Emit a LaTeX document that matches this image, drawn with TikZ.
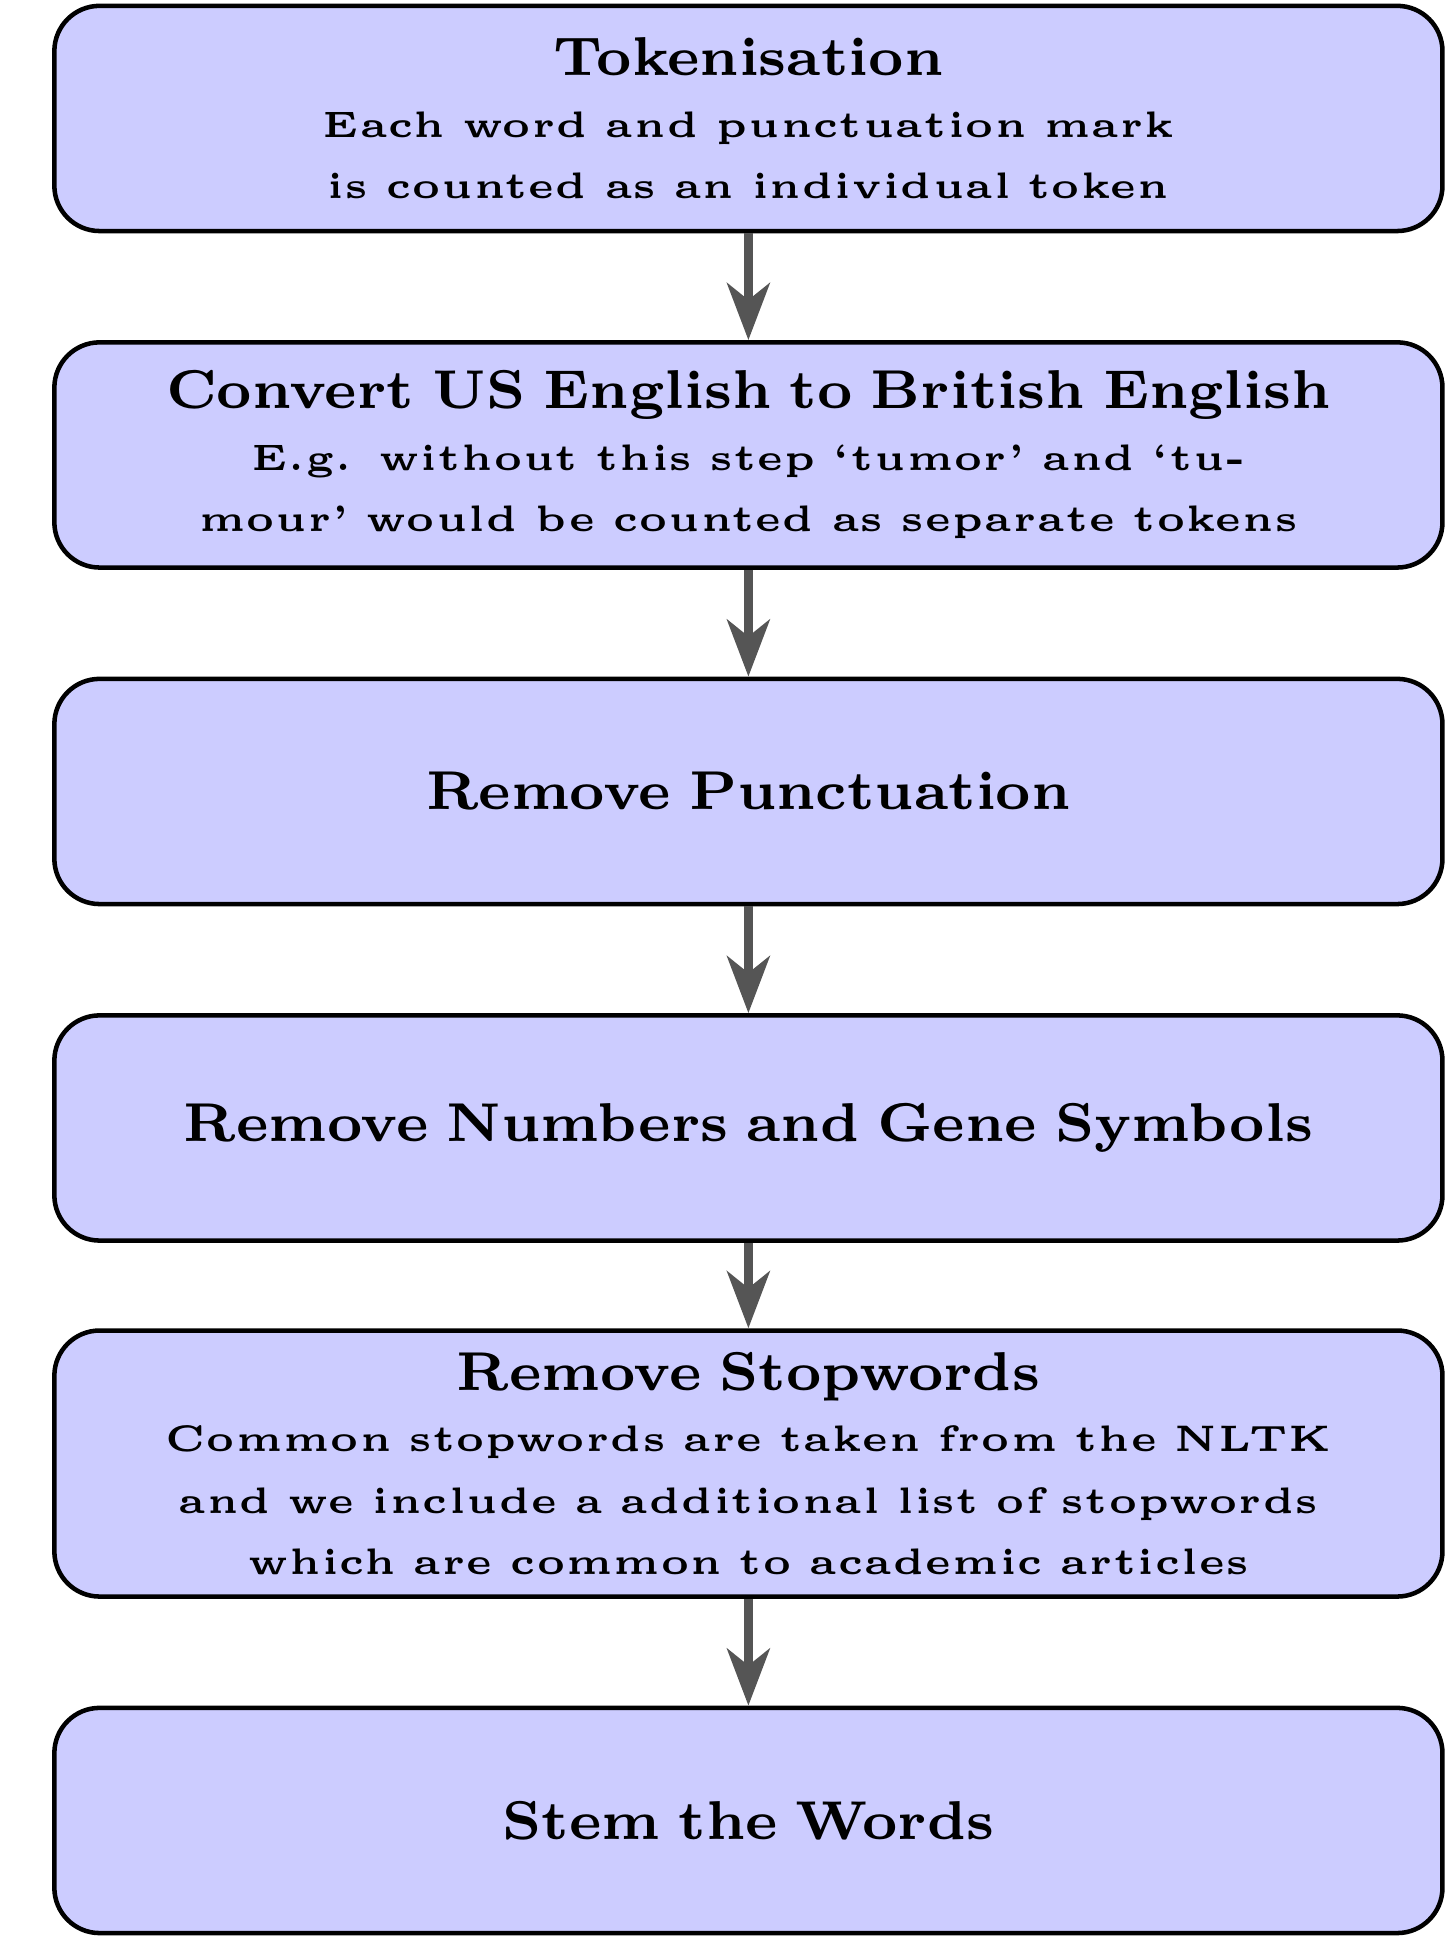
\documentclass[tikz,border=0pt]{standalone}
\usepackage{fontspec}
\newfontfamily\titlefont{lmroman7-bold.otf}[Ligatures=TeX]
\newfontfamily\detailfont{lmroman5-bold.otf}[Ligatures=TeX,WordSpace=1.6,LetterSpace=4]
\usepackage{xcolor}
\definecolor{Lilac}{HTML}{CCCCFF}
\definecolor{Graphite}{HTML}{555555}
\usepackage{tikz}
\usetikzlibrary{arrows.meta,positioning}
\newcommand{\detail}[1]{{\fontsize{5.7pt}{6.5pt}\detailfont #1}}

\begin{document}
\begin{tikzpicture}[
  node distance=16.5pt,
  stage/.style={draw=black,line width=0.7pt,rounded corners=7pt,fill=Lilac,text width=6.5cm,minimum width=214.5pt,minimum height=34.8pt,align=center,font=\fontsize{8.45pt}{9.5pt}\titlefont},
  arrow/.style={-{Stealth[length=8.8pt,width=6.6pt,inset=2.6pt]},line width=1.35pt,color=Graphite}
]
\useasboundingbox (-115.65pt,18.3pt) rectangle (107.8pt,-282.1pt);
\node[stage] (tokenise) {Tokenisation\\\detail{Each word and punctuation mark is counted as an individual token}};
\node[stage,below=of tokenise] (convert) {Convert US English to British English\\\detail{E.g. without this step `tumor' and `tumour' would be counted as separate tokens}};
\node[stage,below=of convert] (punct) {Remove Punctuation};
\node[stage,below=of punct] (numbers) {Remove Numbers and Gene Symbols};
\node[stage,below=13.2pt of numbers] (stopwords) {Remove Stopwords\\\detail{Common stopwords are taken from the NLTK and we include a additional list of stopwords which are common to academic articles}};
\node[stage,below=of stopwords] (stem) {Stem the Words};

\draw[arrow] (tokenise) -- (convert);
\draw[arrow] (convert) -- (punct);
\draw[arrow] (punct) -- (numbers);
\draw[arrow] (numbers) -- (stopwords);
\draw[arrow] (stopwords) -- (stem);
\end{tikzpicture}
\end{document}
